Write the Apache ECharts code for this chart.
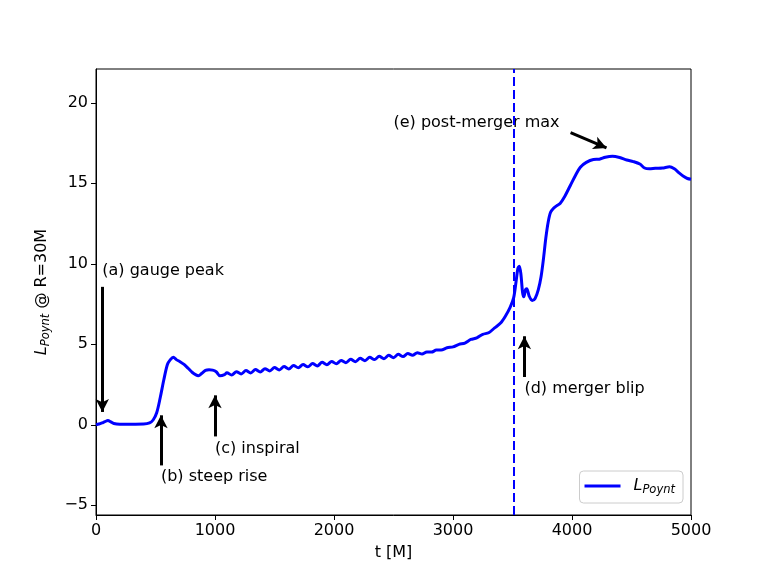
<!DOCTYPE html>
<html>
<head>
<meta charset="utf-8">
<script src="https://cdn.jsdelivr.net/npm/echarts@6/dist/echarts.min.js"></script>
<style>html,body{margin:0;padding:0;background:#fff}#c{width:768px;height:576px}</style>
</head>
<body>
<div id="c"></div>
<script>
var tVals = [0,25,50,75,100,125,150,200,300,400,450,480,510,540,570,600,625,650,675,706,740,776,810,840,860,890,920,950,980,1010,1042,1080,
1100,1140,1180,1220,1260,1300,1340,1380,1420,1460,1500,1540,1580,1620,1660,1700,1740,1780,1820,1860,1900,1940,1980,2020,2060,2100,2140,2180,2220,2260,2300,2340,2380,2420,2460,2500,2540,2580,2620,2660,2700,2740,2780,
2820,2860,2900,2950,3000,3050,3100,3150,3200,3250,3300,3350,3400,3440,3480,3510,3530,3545,3557,3570,3585,3595,3610,3620,3640,3665,3690,3717,3740,3760,3780,3800,3820,3845,3870,3900,3940,3985,4030,4070,4120,4180,4230,4280,4340,4400,4460,4515,4570,4610,4650,4700,4760,4820,4860,4900,4940,4970,5000];
var lPoynt = [0.0,0.05,0.12,0.2,0.27,0.18,0.08,0.04,0.04,0.05,0.12,0.3,0.75,1.7,2.8,3.75,4.05,4.2,4.05,3.92,3.75,3.5,3.25,3.1,3.05,3.2,3.38,3.42,3.4,3.3,3.05,3.12,
3.24,3.09,3.30,3.16,3.37,3.22,3.43,3.28,3.49,3.35,3.56,3.41,3.62,3.47,3.69,3.54,3.75,3.60,3.81,3.66,3.88,3.73,3.94,3.79,4.00,3.86,4.07,3.92,4.13,3.98,4.19,4.05,4.26,4.11,4.32,4.17,4.38,4.24,4.43,4.32,4.48,4.40,4.53,
4.52,4.64,4.64,4.79,4.84,5.0,5.08,5.3,5.4,5.62,5.72,6.02,6.32,6.75,7.3,7.9,8.9,9.7,9.85,9.4,8.2,7.95,8.4,8.45,8.0,7.72,7.85,8.4,9.2,10.3,11.6,12.6,13.2,13.45,13.6,13.75,14.2,14.85,15.5,16.0,16.3,16.48,16.5,16.62,16.68,16.6,16.45,16.35,16.2,15.95,15.9,15.93,15.95,16.03,15.9,15.65,15.42,15.3,15.25];
var tMerger = 3510;
var xTicks = [0,1000,2000,3000,4000,5000];
var yTicks = [-5,0,5,10,15,20];
var annTexts = ['(a) gauge peak','(b) steep rise','(c) inspiral','(d) merger blip','(e) post-merger max'];
var annTextPos = [[53,9.57],[546,-3.25],[1000,-1.48],[3600,2.25],[2500,18.73]];
var arrowFrom = [[53,8.57],[546,-2.52],[1000,-0.72],[3600,2.97],[3988,18.15]];
var arrowTo = [[53,0.8],[546,0.59],[1000,1.83],[3600,5.5],[4290,17.2]];

var FONT = 'DejaVu Sans';
var lineData = tVals.map(function(t,i){return [t,lPoynt[i]];});
var annData = annTexts.map(function(s,i){return {name:s,value:annTextPos[i]};});
var arrows = arrowFrom.map(function(a,i){return [{coord:a},{coord:arrowTo[i]}];});

var chart = echarts.init(document.getElementById('c'), null, {renderer:'canvas'});
chart.setOption({
  animation:false,
  backgroundColor:'#fff',
  grid:{left:96,right:77,top:69,bottom:61,show:true,borderColor:'#000',borderWidth:1,backgroundColor:'transparent'},
  xAxis:{type:'value',min:0,max:5000,interval:1000,
    name:'t [M]',nameLocation:'middle',nameGap:30,
    nameTextStyle:{fontFamily:FONT,fontSize:16,color:'#000'},
    axisLine:{show:true,onZero:false,lineStyle:{color:'#000',width:1}},
    axisTick:{show:true,inside:false,length:5,customValues:xTicks,lineStyle:{color:'#000'}},
    axisLabel:{fontFamily:FONT,fontSize:16,color:'#000',margin:8,customValues:xTicks,
      formatter:function(v){return String(v);}},
    splitLine:{show:false}},
  yAxis:{type:'value',min:-5.6,max:22.1,
    name:'{i|L}{s|Poynt}{n| @ R=30M}',nameLocation:'middle',nameGap:44,nameRotate:90,
    nameTextStyle:{fontFamily:FONT,fontSize:16,color:'#000',
      rich:{i:{fontFamily:FONT,fontStyle:'italic',fontSize:16,color:'#000'},
            s:{fontFamily:FONT,fontStyle:'italic',fontSize:11.5,color:'#000',padding:[8,0,0,0]},
            n:{fontFamily:FONT,fontSize:16,color:'#000'}}},
    axisLine:{show:true,onZero:false,lineStyle:{color:'#000',width:1}},
    axisTick:{show:true,inside:false,length:5,customValues:yTicks,lineStyle:{color:'#000'}},
    axisLabel:{fontFamily:FONT,fontSize:16,color:'#000',margin:8,customValues:yTicks,
      formatter:function(v){return v<0?'\u2212'+Math.abs(v):String(v);}},
    splitLine:{show:false}},
  legend:{data:[{name:'L_Poynt',icon:'rect'}],right:85,bottom:73,orient:'vertical',
    backgroundColor:'rgba(255,255,255,0.8)',borderColor:'#ccc',borderWidth:1,borderRadius:4,
    padding:[7,8,7,5],itemWidth:36,itemHeight:3,itemGap:6,
    itemStyle:{color:'#0000ff'},
    formatter:function(){return '{i|L}{s|Poynt}';},
    textStyle:{fontFamily:FONT,fontSize:16,color:'#000',padding:[0,0,0,8],
      rich:{i:{fontFamily:FONT,fontStyle:'italic',fontSize:16,color:'#000'},
            s:{fontFamily:FONT,fontStyle:'italic',fontSize:11.5,color:'#000',padding:[8,0,0,0]}}}},
  series:[
    {name:'L_Poynt',type:'line',data:lineData,showSymbol:false,symbol:'none',smooth:0.3,
      lineStyle:{color:'#0000ff',width:3},itemStyle:{color:'#0000ff'},
      markLine:{silent:true,symbol:['none','none'],label:{show:false},
        lineStyle:{color:'#0000ff',width:2,type:[9,4]},
        data:[{xAxis:tMerger}]}},
    {name:'annotations',type:'scatter',data:annData,symbolSize:0,silent:true,
      itemStyle:{opacity:1,color:'#000'},
      label:{show:true,position:'right',distance:0,formatter:'{b}',
        fontFamily:FONT,fontSize:16,color:'#000',opacity:1},
      markLine:{silent:true,symbol:['none','arrow'],symbolSize:[10,13],label:{show:false},
        lineStyle:{color:'#000',width:3,type:'solid',opacity:1},
        data:arrows}}
  ]
});
</script>
</body>
</html>
